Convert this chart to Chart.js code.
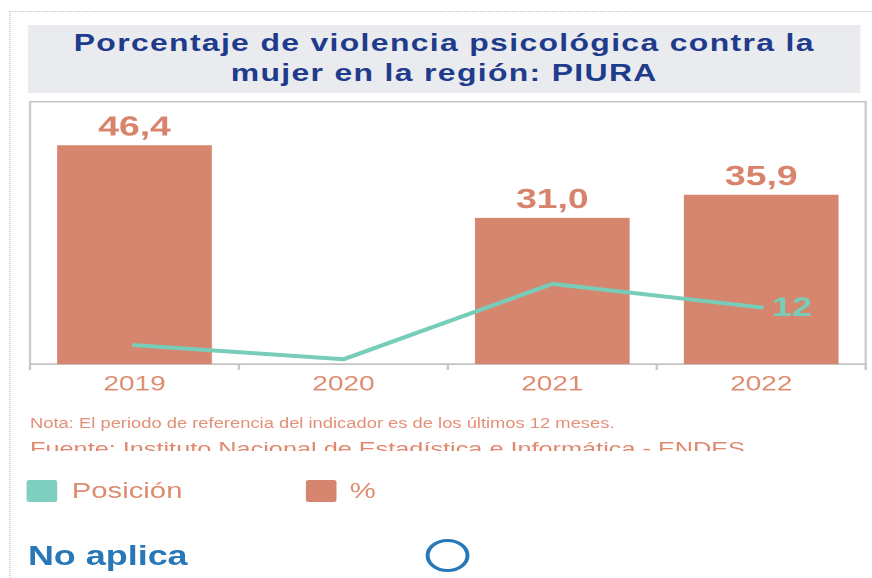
<!DOCTYPE html>
<html><head><meta charset="utf-8">
<script src="https://cdn.jsdelivr.net/npm/chart.js@4.4.1/dist/chart.umd.min.js"></script>
<style>
html,body{margin:0;padding:0;width:872px;height:578px;overflow:hidden;background:#fff;font-family:"Liberation Sans",Arial,sans-serif;}
#stage{position:absolute;left:0;top:0;width:655.6px;height:578px;transform:scaleX(1.33);transform-origin:0 0;}
#frame{position:absolute;left:6.8px;top:11px;width:700px;height:600px;border-left:1px dotted #c4c4c4;border-top:1px dotted #c4c4c4;}
#title{position:absolute;left:21px;top:25px;width:626px;height:68px;background:#e9ebef;color:#1f3c8c;font-weight:bold;font-size:24px;letter-spacing:1px;line-height:30px;text-align:center;padding-top:3px;box-sizing:border-box;}
#chartwrap{position:absolute;left:0;top:99px;width:655.6px;height:311px;}
#nota{position:absolute;left:22.6px;top:416px;font-size:13.8px;line-height:16px;color:#e39077;white-space:nowrap;}
#fuenteclip{position:absolute;left:22.6px;top:434px;width:630px;height:17px;overflow:hidden;}
#fuente{position:absolute;left:0;top:3.5px;font-size:19px;line-height:22px;color:#e0896f;white-space:nowrap;}
.sq{position:absolute;top:480px;width:23px;height:22px;border-radius:2px;}
.lg{position:absolute;top:480px;font-size:22px;line-height:22px;color:#dc8c70;white-space:nowrap;}
#noap{position:absolute;left:21px;top:540.7px;font-size:27px;line-height:30px;font-weight:bold;color:#2878b8;white-space:nowrap;}
#circ{position:absolute;left:319.6px;top:539px;width:33px;height:33px;box-sizing:border-box;border:3px solid #2878b8;border-radius:50%;}
</style>
</head><body>
<div id="stage">
  <div id="frame"></div>
  <div id="title">Porcentaje de violencia psicológica contra la<br>mujer en la región: PIURA</div>
  <div id="chartwrap"><canvas id="c"></canvas></div>
  <div id="nota">Nota: El periodo de referencia del indicador es de los últimos 12 meses.</div>
  <div id="fuenteclip"><div id="fuente">Fuente: Instituto Nacional de Estadística e Informática - ENDES</div></div>
  <div class="sq" style="left:20.3px;background:#7ecfbf"></div>
  <div class="lg" style="left:54px">Posición</div>
  <div class="sq" style="left:230px;background:#d6866f"></div>
  <div class="lg" style="left:263px">%</div>
  <div id="noap">No aplica</div>
  <div id="circ"></div>
</div>
<script>
// ---- data ----
const years = ['2019', '2020', '2021', '2022'];
const percentValues = [46.4, null, 31.0, 35.9];
const positionValues = [4, 1, 17, 12];
const positionLabelIndex = [3];

const frame = {
  id: 'frame',
  beforeDatasetsDraw(chart) {
    const a = chart.chartArea, ctx = chart.ctx;
    ctx.save();
    ctx.strokeStyle = '#c4c4c4';
    ctx.lineWidth = 1.5;
    ctx.strokeRect(a.left, a.top + 0.75, a.right - a.left, a.bottom - a.top - 0.75);
    ctx.restore();
  }
};
const labels = {
  id: 'labels',
  afterDatasetsDraw(chart) {
    const ctx = chart.ctx;
    ctx.save();
    const barMeta = chart.getDatasetMeta(1);
    ctx.font = 'bold 28px "Liberation Sans", Arial, sans-serif';
    ctx.fillStyle = '#d8846c';
    ctx.textAlign = 'center';
    ctx.textBaseline = 'alphabetic';
    barMeta.data.forEach((el, i) => {
      const v = percentValues[i];
      if (v === null) return;
      ctx.fillText(v.toFixed(1).replace('.', ','), el.x, el.y - 10);
    });
    const lineMeta = chart.getDatasetMeta(0);
    ctx.font = 'bold 27px "Liberation Sans", Arial, sans-serif';
    ctx.fillStyle = '#76cdb8';
    ctx.textAlign = 'left';
    ctx.textBaseline = 'middle';
    positionLabelIndex.forEach(i => {
      const el = lineMeta.data[i];
      ctx.fillText(String(positionValues[i]), el.x + 8, el.y + 1);
    });
    ctx.restore();
  }
};

new Chart(document.getElementById('c'), {
  data: {
    labels: years,
    datasets: [
      { type: 'line', label: 'Posición', data: positionValues, borderColor: '#78cdb9', borderWidth: 4,
        pointRadius: 0, borderCapStyle: 'round', borderJoinStyle: 'round', tension: 0, order: 1 },
      { type: 'bar', label: '%', data: percentValues, backgroundColor: '#d6866f',
        barPercentage: 0.74, categoryPercentage: 1, order: 2 }
    ]
  },
  options: {
    responsive: true,
    maintainAspectRatio: false,
    animation: false,
    devicePixelRatio: 2,
    layout: { padding: { left: 22.6, right: 5.2, top: 0, bottom: 0 } },
    plugins: { legend: { display: false }, tooltip: { enabled: false } },
    scales: {
      x: {
        grid: { offset: true, drawOnChartArea: false, color: '#c8c8c8', lineWidth: 2, tickLength: 6 },
        border: { display: true, color: '#c0c0c0', width: 1.5 },
        ticks: { color: '#dc8c70', font: { family: '"Liberation Sans", Arial, sans-serif', size: 21 }, padding: 2 },
        afterFit: s => { s.height = 46; }
      },
      y: { display: false, min: 0, max: 55.8 }
    }
  },
  plugins: [frame, labels]
});
</script>
</body></html>
